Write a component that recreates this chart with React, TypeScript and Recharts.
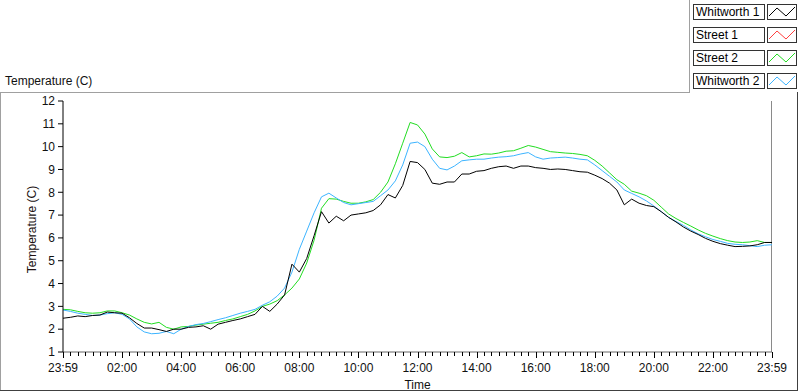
import React from "react";
import { LineChart, Line, XAxis, YAxis, Label } from "recharts";

// hours since 23:59, every 15 minutes
const TIMES = Array.from({ length: 97 }, (_, i) => i * 0.25);

const WHITWORTH_1 = [
  2.48, 2.52, 2.58, 2.55, 2.6, 2.62, 2.75, 2.72,
  2.7, 2.5, 2.25, 2.05, 2.05, 1.98, 1.9, 2.0,
  2.0, 2.08, 2.1, 2.15, 2.0, 2.22, 2.3, 2.38,
  2.45, 2.55, 2.65, 3.0, 2.78, 3.1, 3.5, 4.85,
  4.5, 5.1, 6.1, 7.15, 6.65, 6.95, 6.75, 7.0,
  7.05, 7.1, 7.2, 7.45, 7.9, 7.75, 8.3, 9.35,
  9.3, 9.0, 8.4, 8.35, 8.45, 8.45, 8.8, 8.8,
  8.92, 8.95, 9.05, 9.12, 9.15, 9.05, 9.15, 9.15,
  9.08, 9.05, 9.0, 9.02, 9.0, 8.95, 8.9, 8.88,
  8.75, 8.6, 8.4, 8.1, 7.45, 7.7, 7.52, 7.42,
  7.37, 7.15, 6.9, 6.7, 6.48, 6.3, 6.15, 5.98,
  5.85, 5.75, 5.68, 5.62, 5.63, 5.65, 5.7, 5.8,
  5.8,
];

const STREET_2 = [
  2.87, 2.85, 2.78, 2.72, 2.7, 2.72, 2.8, 2.8,
  2.72, 2.62, 2.45, 2.3, 2.23, 2.3, 2.08, 2.0,
  2.1, 2.12, 2.18, 2.22, 2.26, 2.3, 2.38, 2.45,
  2.55, 2.65, 2.8, 3.0, 3.1, 3.25, 3.5, 3.8,
  4.2, 4.9, 5.9, 7.3, 7.72, 7.7, 7.6, 7.52,
  7.52, 7.58, 7.68, 8.0, 8.45, 9.25, 10.15, 11.06,
  10.95, 10.55, 9.9, 9.55, 9.52, 9.58, 9.74, 9.55,
  9.6, 9.68, 9.67, 9.72, 9.8, 9.82, 9.93, 10.05,
  9.98, 9.88, 9.78, 9.75, 9.72, 9.7, 9.66, 9.6,
  9.4, 9.15, 8.85, 8.55, 8.35, 8.05, 7.96, 7.85,
  7.65, 7.35, 7.05, 6.85, 6.68, 6.52, 6.35, 6.2,
  6.08, 5.97, 5.88, 5.82, 5.8, 5.82, 5.88, 5.8,
  5.8,
];

const WHITWORTH_2 = [
  2.84, 2.78, 2.7, 2.65, 2.6, 2.62, 2.68, 2.72,
  2.65, 2.45, 2.1, 1.88, 1.8, 1.82, 1.9, 1.8,
  2.0, 2.12, 2.2, 2.25, 2.33, 2.42, 2.5, 2.6,
  2.7, 2.78, 2.87, 3.05, 3.2, 3.45, 3.8, 4.5,
  5.5, 6.3, 7.1, 7.8, 7.96, 7.75, 7.55, 7.45,
  7.5, 7.55, 7.6, 7.85, 8.1, 8.5, 9.2, 10.15,
  10.2, 10.0, 9.45, 9.05, 8.98, 9.15, 9.38, 9.42,
  9.45, 9.45, 9.5, 9.54, 9.56, 9.6, 9.68, 9.74,
  9.55, 9.45, 9.5, 9.52, 9.54, 9.5, 9.45, 9.42,
  9.2, 8.95, 8.7, 8.45, 8.1, 7.95, 7.8, 7.62,
  7.4, 7.15, 6.9, 6.72, 6.55, 6.35, 6.18, 6.05,
  5.93, 5.85, 5.76, 5.72, 5.7, 5.66, 5.62, 5.68,
  5.7,
];

const Y_TICKS = [1, 2, 3, 4, 5, 6, 7, 8, 9, 10, 11, 12];

const LEGEND = [
  { name: "Whitworth 1", color: "#000000" },
  { name: "Street 1", color: "#ff4040" },
  { name: "Street 2", color: "#22dd22" },
  { name: "Whitworth 2", color: "#3cb4ff" },
];

const FONT = "'Liberation Sans', Arial, sans-serif";

const data = TIMES.map((t, i) => ({
  t,
  w1: WHITWORTH_1[i],
  s2: STREET_2[i],
  w2: WHITWORTH_2[i],
}));

const fmtTime = (h: number) => {
  if (h === 0 || h === 24) return "23:59";
  return String(h).padStart(2, "0") + ":00";
};

const TimeTick = (props: any) => {
  const { x, y, payload } = props;
  const v = payload.value;
  const major = v % 2 === 0;
  const px = Math.round(x) + 0.5;
  return (
    <g>
      <line x1={px} y1={y} x2={px} y2={y + (major ? 6 : 4)} stroke="#000" />
      {major && (
        <text x={x} y={y + 20} textAnchor="middle" fontSize={12} fontFamily={FONT} fill="#111">
          {fmtTime(v)}
        </text>
      )}
    </g>
  );
};

const Legend = () => (
  <div style={{ position: "absolute", left: 693, top: 4 }}>
    {LEGEND.map((s, i) => (
      <div key={s.name} style={{ position: "absolute", top: i * 23, left: 0, width: 110, height: 16 }}>
        <div
          style={{
            position: "absolute", left: 0, top: 0, width: 68, height: 14,
            border: "1px solid #333", background: "#fff",
            fontFamily: FONT, fontSize: 12, lineHeight: "14px", paddingLeft: 2, boxSizing: "content-box",
          }}
        >
          {s.name}
        </div>
        <svg style={{ position: "absolute", left: 74, top: 0 }} width={30} height={16}>
          <rect x={0.5} y={0.5} width={29} height={15} fill="#fff" stroke="#333" />
          <polyline points="2,12 10,4 19,12 28,3" fill="none" stroke={s.color} strokeWidth={1} />
        </svg>
      </div>
    ))}
  </div>
);

export default function App() {
  return (
    <div style={{ position: "absolute", left: 0, top: 0, width: 800, height: 392, background: "#fff" }}>
      {/* panel frame */}
      <div style={{ position: "absolute", left: 0, top: 92, width: 689, height: 1, background: "#a0a0a0" }} />
      <div style={{ position: "absolute", left: 689, top: 0, width: 1, height: 93, background: "#a0a0a0" }} />
      <div style={{ position: "absolute", left: 0, top: 92, width: 1, height: 298, background: "#a0a0a0" }} />
      <div style={{ position: "absolute", left: 797, top: 92, width: 1, height: 299, background: "#404040" }} />
      <div style={{ position: "absolute", left: 0, top: 390, width: 798, height: 1, background: "#404040" }} />
      {/* right edge of the plot box */}
      <div style={{ position: "absolute", left: 771, top: 101, width: 1, height: 251, background: "#8a8a8a" }} />
      <div style={{ position: "absolute", left: 5, top: 74, fontFamily: FONT, fontSize: 12, color: "#111" }}>
        Temperature (C)
      </div>
      <Legend />
      <div style={{ position: "absolute", left: 0, top: 0 }}>
        <LineChart width={800} height={392} data={data} margin={{ top: 101, right: 28, bottom: 0, left: 0 }}>
          <XAxis
            dataKey="t"
            type="number"
            domain={[0, 24]}
            ticks={TIMES}
            interval={0}
            tick={<TimeTick />}
            tickLine={false}
            tickSize={0}
            tickMargin={0}
            height={40}
            axisLine={{ stroke: "#666" }}
          >
            <Label value="Time" position="insideBottom" offset={3} fontSize={12} fontFamily={FONT} fill="#111" />
          </XAxis>
          <XAxis
            xAxisId="top"
            orientation="top"
            type="number"
            domain={[0, 24]}
            tick={false}
            tickLine={false}
            height={0}
            axisLine={{ stroke: "#000" }}
          />
          <YAxis
            type="number"
            domain={[1, 12]}
            ticks={Y_TICKS}
            interval={0}
            width={63}
            tickSize={5}
            tickMargin={3}
            tickLine={{ stroke: "#000" }}
            axisLine={{ stroke: "#000" }}
            tick={{ fontSize: 12, fontFamily: FONT, fill: "#111" }}
            allowDataOverflow
          >
            <Label value="Temperature (C)" angle={-90} position="center" dy={3} fontSize={12} fontFamily={FONT} fill="#201010" />
          </YAxis>
          <Line dataKey="s2" stroke="#22dd22" strokeWidth={1} dot={false} type="linear" isAnimationActive={false} />
          <Line dataKey="w2" stroke="#3cb4ff" strokeWidth={1} dot={false} type="linear" isAnimationActive={false} />
          <Line dataKey="w1" stroke="#000000" strokeWidth={1} dot={false} type="linear" isAnimationActive={false} />
        </LineChart>
      </div>
    </div>
  );
}
